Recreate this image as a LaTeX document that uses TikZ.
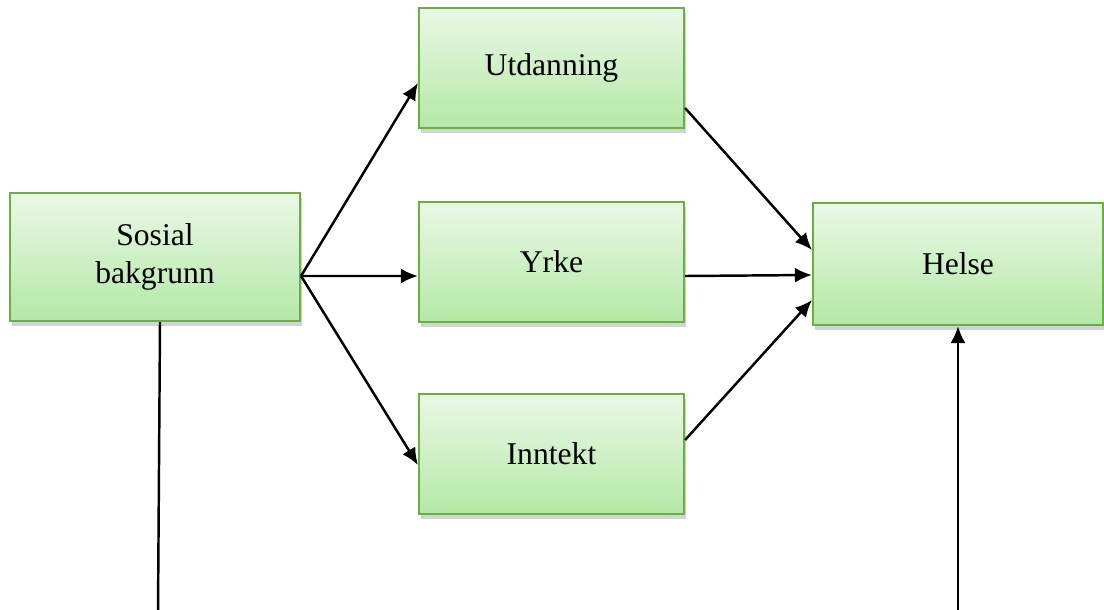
\documentclass[tikz,border=0pt]{standalone}
\usepackage{fontspec}
\setmainfont{Liberation Serif}
\usetikzlibrary{arrows.meta}
\usetikzlibrary{shadows}
\usepackage{xcolor}

\definecolor{boxtop}{HTML}{EAF8E6}
\definecolor{boxbot}{HTML}{B4E8A6}
\definecolor{boxline}{HTML}{6AAE45}

\tikzset{
 factor/.style={draw=boxline, line width=1.2pt, top color=boxtop, bottom color=boxbot,
  minimum width=5.3cm, minimum height=2.4cm, align=center,
  font=\fontsize{18}{22}\selectfont,
  drop shadow={opacity=.35, shadow xshift=.04cm, shadow yshift=-.1cm}},
 link/.style={line width=1.4pt, -{Latex[length=3.4mm, width=3mm]}}
}

\begin{document}
\begin{tikzpicture}
\useasboundingbox (0,0) rectangle (22.08,-12.18);
\node[factor, minimum width=5.8cm, minimum height=2.56cm] (sosial) at (3.1,-5.14) {Sosial\\bakgrunn};
\node[factor] (utdanning) at (11.03,-1.36) {Utdanning};
\node[factor] (yrke) at (11.03,-5.24) {Yrke};
\node[factor] (inntekt) at (11.03,-9.08) {Inntekt};
\node[factor, minimum width=5.8cm, minimum height=2.44cm] (helse) at (19.16,-5.28) {Helse};
% from background to the three factors
\coordinate (start) at ([yshift=-.38cm]sosial.east);
\draw[link] (start) -- ([yshift=-.3cm]utdanning.west);
\draw[link] (start) -- ([yshift=-.28cm]yrke.west);
\draw[link] (start) -- ([yshift=-.22cm]inntekt.west);
% from the three factors to health
\draw[link] ([yshift=-.8cm]utdanning.east) -- ([yshift=.28cm]helse.west);
\draw[link] ([yshift=-.28cm]yrke.east) -- ([yshift=-.22cm]helse.west);
\draw[link] ([yshift=.28cm]inntekt.east) -- ([yshift=-.72cm]helse.west);
% direct path
\coordinate (low) at (3.16,-12.25);
\draw[line width=1.4pt] ([xshift=.1cm]sosial.south) -- (low);
\draw[link] (low) -| (helse.south);
\end{tikzpicture}
\end{document}
